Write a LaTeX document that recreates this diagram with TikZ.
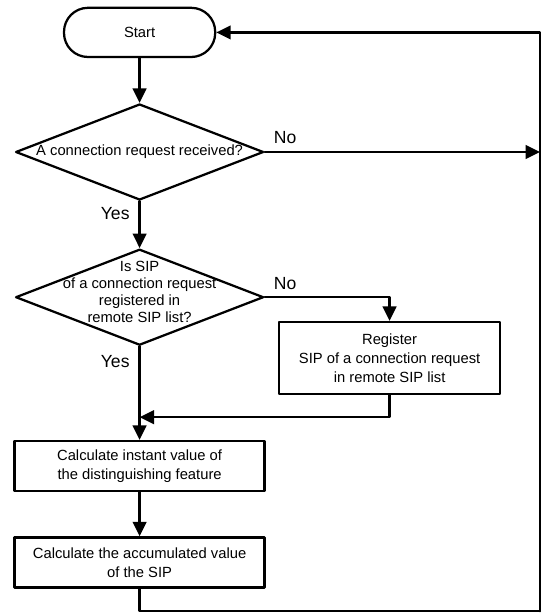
\documentclass[tikz,border=0pt]{standalone}
\usepackage{fontspec}
\setmainfont{Liberation Sans}
\usetikzlibrary{arrows.meta,shapes.geometric}

\begin{document}
\begin{tikzpicture}[
		line cap=round, line join=round,
		flow/.style={line width=1.6pt, -{Triangle[length=3.6mm,width=3.4mm]}},
		wire/.style={line width=1.6pt},
		term/.style={draw, line width=1.6pt, rounded corners=0.6cm,
				minimum width=3.78cm, minimum height=1.23cm,
				font=\fontsize{10.5}{12}\selectfont},
		box/.style={draw, line width=1.6pt, minimum width=6.25cm, minimum height=1.25cm,
				align=center, font=\fontsize{10.5}{13.5}\selectfont},
		choice/.style={draw, diamond, line width=1.6pt,
				minimum width=6.2cm, minimum height=2.4cm, inner sep=0pt},
		txt/.style={align=center, font=\fontsize{10.5}{12}\selectfont},
		lbl/.style={font=\fontsize{12.5}{14}\selectfont}]

	\useasboundingbox (0,0) rectangle (13.55,-15.35);

	% ---- blocchi ----
	\node[term] (start) at (3.49,-0.81) {Start};

	\node[choice] (d1) at (3.49,-3.80) {};
	\node[txt] (q1) at (d1) {A connection request received?};

	\node[choice] (d2) at (3.49,-7.43) {};
	\node[txt] (q2) at (3.49,-7.30) {Is SIP\\of a connection request\\registered in\\remote SIP list?};

	\node[box, minimum width=5.53cm, minimum height=1.8cm] (reg) at (9.74,-8.95)
	{Register\\SIP of a connection request\\in remote SIP list};

	\node[box] (calc1) at (3.49,-11.65) {Calculate instant value of\\the distinguishing feature};
	\node[box] (calc2) at (3.49,-14.06) {Calculate the accumulated value\\of the SIP};

	% ---- punti di appoggio ----
	\coordinate (br) at (13.5,-15.28);
	\coordinate (merge) at (3.49,-10.43);

	% ---- collegamenti ----
	\draw[flow] (start) -- (d1);
	\draw[flow] (d1.east) -- (d1.east -| br);
	\draw[flow] (d1) -- (d2);
	\draw[flow] (d2.east) -| (reg.north);
	\draw[flow] (d2) -- (calc1);
	\draw[flow] (reg.south) |- (merge);
	\draw[flow] (calc1) -- (calc2);
	\draw[wire] (calc2.south) |- (br);
	\draw[flow] (br) |- (start.east);

	% ---- etichette ----
	\node[lbl] (no1) at (7.13,-3.45) {No};
	\node[lbl] (yes1) at (2.88,-5.35) {Yes};
	\node[lbl] (no2) at (7.13,-7.08) {No};
	\node[lbl] (yes2) at (2.88,-9.05) {Yes};

\end{tikzpicture}
\end{document}
